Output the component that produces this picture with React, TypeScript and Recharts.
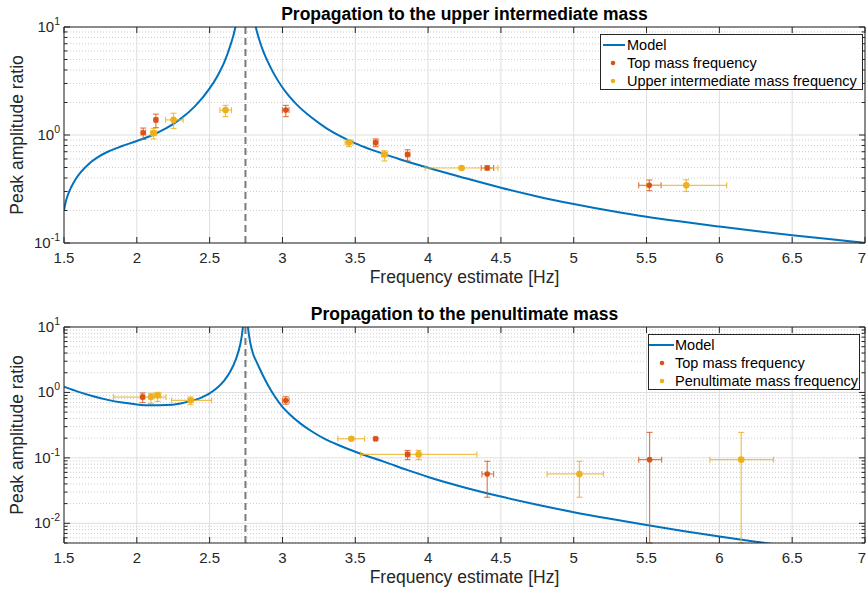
import React from 'react';
import {
  ComposedChart,
  Line,
  Scatter,
  XAxis,
  YAxis,
  CartesianGrid,
  ReferenceLine,
  ErrorBar,
} from 'recharts';

// ---------- data ----------
const xTicks = [1.5, 2, 2.5, 3, 3.5, 4, 4.5, 5, 5.5, 6, 6.5, 7];
const xTickLabels = ['1.5', '2', '2.5', '3', '3.5', '4', '4.5', '5', '5.5', '6', '6.5', '7'];

const upperMajorY = [0.1, 1, 10];
const upperMinorY = [0.2, 0.3, 0.4, 0.5, 0.6, 0.7, 0.8, 0.9, 2, 3, 4, 5, 6, 7, 8, 9];
const penultMajorY = [0.01, 0.1, 1, 10];
const penultMinorY = [
  0.005, 0.006, 0.007, 0.008, 0.009,
  0.02, 0.03, 0.04, 0.05, 0.06, 0.07, 0.08, 0.09,
  0.2, 0.3, 0.4, 0.5, 0.6, 0.7, 0.8, 0.9,
  2, 3, 4, 5, 6, 7, 8, 9,
];
const upperDomain = [0.1, 10];
const penultDomain = [0.005, 10];
const xDomain = [1.5, 7];
const resonanceHz = 2.746;

const modelUpper = [
  { f: 1.5, v: 0.2 }, { f: 1.51, v: 0.235 }, { f: 1.525, v: 0.275 }, { f: 1.55, v: 0.33 },
  { f: 1.58, v: 0.39 }, { f: 1.62, v: 0.46 }, { f: 1.67, v: 0.54 }, { f: 1.73, v: 0.62 },
  { f: 1.8, v: 0.7 }, { f: 1.9, v: 0.79 }, { f: 2.0, v: 0.88 }, { f: 2.1, v: 0.99 },
  { f: 2.2, v: 1.15 }, { f: 2.3, v: 1.41 }, { f: 2.4, v: 1.85 }, { f: 2.5, v: 2.7 },
  { f: 2.55, v: 3.45 }, { f: 2.6, v: 4.7 }, { f: 2.64, v: 6.6 }, { f: 2.677, v: 10 },
  { f: 2.7, v: 15.5 }, { f: 2.746, v: null }, { f: 2.79, v: 17 }, { f: 2.817, v: 10 },
  { f: 2.84, v: 7.7 }, { f: 2.867, v: 6.0 }, { f: 2.9, v: 4.75 }, { f: 2.936, v: 3.8 },
  { f: 3.0, v: 2.75 }, { f: 3.05, v: 2.25 }, { f: 3.1, v: 1.9 }, { f: 3.2, v: 1.45 },
  { f: 3.3, v: 1.16 }, { f: 3.4, v: 0.97 }, { f: 3.5, v: 0.835 }, { f: 3.6, v: 0.74 },
  { f: 3.7, v: 0.665 }, { f: 3.8, v: 0.6 }, { f: 3.9, v: 0.545 }, { f: 4.0, v: 0.497 },
  { f: 4.25, v: 0.4 }, { f: 4.5, v: 0.325 }, { f: 4.75, v: 0.27 }, { f: 5.0, v: 0.23 },
  { f: 5.25, v: 0.199 }, { f: 5.5, v: 0.175 }, { f: 5.75, v: 0.157 }, { f: 6.0, v: 0.142 },
  { f: 6.25, v: 0.129 }, { f: 6.5, v: 0.118 }, { f: 6.75, v: 0.109 }, { f: 7.0, v: 0.1 },
];

const modelPenult = [
  { f: 1.5, v: 1.22 }, { f: 1.6, v: 1.02 }, { f: 1.7, v: 0.875 }, { f: 1.8, v: 0.77 },
  { f: 1.9, v: 0.7 }, { f: 2.0, v: 0.655 }, { f: 2.1, v: 0.635 }, { f: 2.2, v: 0.64 },
  { f: 2.3, v: 0.68 }, { f: 2.4, v: 0.77 }, { f: 2.45, v: 0.85 }, { f: 2.5, v: 0.97 },
  { f: 2.55, v: 1.17 }, { f: 2.6, v: 1.52 }, { f: 2.64, v: 2.05 }, { f: 2.68, v: 3.2 },
  { f: 2.71, v: 5.4 }, { f: 2.725, v: 8.5 }, { f: 2.735, v: 14 }, { f: 2.746, v: null },
  { f: 2.755, v: 16 }, { f: 2.763, v: 10 }, { f: 2.78, v: 5.6 }, { f: 2.8, v: 3.8 },
  { f: 2.82, v: 3.0 }, { f: 2.844, v: 2.3 }, { f: 2.867, v: 1.8 }, { f: 2.9, v: 1.3 },
  { f: 2.95, v: 0.85 }, { f: 3.0, v: 0.6 }, { f: 3.06, v: 0.44 }, { f: 3.12, v: 0.34 },
  { f: 3.2, v: 0.255 }, { f: 3.3, v: 0.19 }, { f: 3.4, v: 0.152 }, { f: 3.5, v: 0.124 },
  { f: 3.6, v: 0.103 }, { f: 3.7, v: 0.087 }, { f: 3.85, v: 0.066 }, { f: 4.0, v: 0.051 },
  { f: 4.25, v: 0.0353 }, { f: 4.5, v: 0.0256 }, { f: 4.75, v: 0.0192 }, { f: 5.0, v: 0.0148 },
  { f: 5.25, v: 0.0117 }, { f: 5.5, v: 0.0094 }, { f: 5.75, v: 0.00764 }, { f: 6.0, v: 0.00628 },
  { f: 6.25, v: 0.00522 }, { f: 6.5, v: 0.0044 },
];

// measured points: f (Hz) with [fLo, fHi], v (ratio) with [vLo, vHi]
const upperTopMass = [
  { f: 2.044, fLo: 2.03, fHi: 2.06, v: 1.05, vLo: 0.91, vHi: 1.16 },
  { f: 2.131, fLo: 2.12, fHi: 2.143, v: 1.38, vLo: 1.17, vHi: 1.56 },
  { f: 3.023, fLo: 3.0, fHi: 3.045, v: 1.7, vLo: 1.48, vHi: 1.88 },
  { f: 3.64, fLo: 3.625, fHi: 3.655, v: 0.85, vLo: 0.78, vHi: 0.92 },
  { f: 3.859, fLo: 3.845, fHi: 3.875, v: 0.66, vLo: 0.575, vHi: 0.73 },
  { f: 4.406, fLo: 4.365, fHi: 4.45, v: 0.495, vLo: 0.475, vHi: 0.52 },
  { f: 5.519, fLo: 5.446, fHi: 5.6, v: 0.342, vLo: 0.305, vHi: 0.383 },
];
const upperOwnMass = [
  { f: 2.115, fLo: 2.095, fHi: 2.135, v: 1.04, vLo: 0.92, vHi: 1.15 },
  { f: 2.252, fLo: 2.197, fHi: 2.318, v: 1.38, vLo: 1.15, vHi: 1.59 },
  { f: 2.609, fLo: 2.57, fHi: 2.65, v: 1.7, vLo: 1.48, vHi: 1.88 },
  { f: 3.457, fLo: 3.43, fHi: 3.485, v: 0.85, vLo: 0.78, vHi: 0.9 },
  { f: 3.7, fLo: 3.68, fHi: 3.72, v: 0.66, vLo: 0.575, vHi: 0.715 },
  { f: 4.23, fLo: 3.98, fHi: 4.48, v: 0.495, vLo: 0.48, vHi: 0.51 },
  { f: 5.773, fLo: 5.5, fHi: 6.05, v: 0.342, vLo: 0.3, vHi: 0.385 },
];
const penultTopMass = [
  { f: 2.04, fLo: 2.03, fHi: 2.05, v: 0.85, vLo: 0.7, vHi: 0.98 },
  { f: 3.023, fLo: 3.0, fHi: 3.045, v: 0.75, vLo: 0.66, vHi: 0.86 },
  { f: 3.64, fLo: 3.63, fHi: 3.65, v: 0.196, vLo: 0.188, vHi: 0.204 },
  { f: 3.859, fLo: 3.845, fHi: 3.875, v: 0.113, vLo: 0.094, vHi: 0.13 },
  { f: 4.406, fLo: 4.37, fHi: 4.45, v: 0.0568, vLo: 0.025, vHi: 0.0885 },
  { f: 5.521, fLo: 5.446, fHi: 5.604, v: 0.094, vLo: 0.005, vHi: 0.245 },
];
const penultOwnMass = [
  { f: 2.097, fLo: 1.84, fHi: 2.2, v: 0.85, vLo: 0.68, vHi: 0.96 },
  { f: 2.143, fLo: 2.12, fHi: 2.165, v: 0.9, vLo: 0.73, vHi: 1.0 },
  { f: 2.369, fLo: 2.238, fHi: 2.513, v: 0.755, vLo: 0.65, vHi: 0.85 },
  { f: 3.473, fLo: 3.38, fHi: 3.564, v: 0.196, vLo: 0.19, vHi: 0.202 },
  { f: 3.935, fLo: 3.537, fHi: 4.335, v: 0.113, vLo: 0.094, vHi: 0.13 },
  { f: 5.039, fLo: 4.817, fHi: 5.204, v: 0.0568, vLo: 0.025, vHi: 0.0885 },
  { f: 6.15, fLo: 5.935, fHi: 6.372, v: 0.094, vLo: 0.005, vHi: 0.245 },
];

const upperTitle = 'Propagation to the upper intermediate mass';
const penultTitle = 'Propagation to the penultimate mass';
const xTitle = 'Frequency estimate [Hz]';
const yTitle = 'Peak amplitude ratio';
const upperLegend = ['Model', 'Top mass frequency', 'Upper intermediate mass frequency'];
const penultLegend = ['Model', 'Top mass frequency', 'Penultimate mass frequency'];

// ---------- styles ----------
const FONT = '"Liberation Sans", Arial, Helvetica, sans-serif';
const AXIS = '#262626';
const MODEL = '#0072BD';
const ORANGE = '#D95319';
const YELLOW = '#EDB120';
const GRID = '#dedede';
const MINOR = '#cdcdcd';
const DASH = '#7b7b7b';
const CHART_W = 867;

const withErrors = (rows: any[]) =>
  rows.map((r) => ({ ...r, ex: [r.f - r.fLo, r.fHi - r.f], ey: [r.v - r.vLo, r.vHi - r.v] }));

const isMajor = (v: number) => Math.abs(Math.log10(v) - Math.round(Math.log10(v))) < 1e-6;

function LeftYTick(props: any) {
  const { x, y, payload } = props;
  const v = payload.value;
  const major = isMajor(v);
  const exp = Math.round(Math.log10(v));
  return (
    <g>
      <line x1={x} y1={y} x2={x + (major ? 6 : 3.5)} y2={y} stroke={AXIS} strokeWidth={1} />
      {major && (
        <text x={x - 4} y={y + 5} textAnchor="end" fontSize={15} fill={AXIS}>
          10
          <tspan dy={-7} fontSize={10.5}>{String(exp)}</tspan>
        </text>
      )}
    </g>
  );
}

function RightYTick(props: any) {
  const { x, y, payload } = props;
  const major = isMajor(payload.value);
  return <line x1={x} y1={y} x2={x - (major ? 6 : 3.5)} y2={y} stroke={AXIS} strokeWidth={1} />;
}

function BottomXTick(props: any) {
  const { x, y, payload } = props;
  const idx = xTicks.indexOf(payload.value);
  const tx = Math.min(x, CHART_W - 5);
  return (
    <g>
      <line x1={x} y1={y} x2={x} y2={y - 6} stroke={AXIS} strokeWidth={1} />
      <text x={tx} y={y + 20} textAnchor="middle" fontSize={15} fill={AXIS}>
        {idx >= 0 ? xTickLabels[idx] : ''}
      </text>
    </g>
  );
}

function TopXTick(props: any) {
  const { x, y } = props;
  return <line x1={x} y1={y} x2={x} y2={y + 6} stroke={AXIS} strokeWidth={1} />;
}

const Dot = (color: string, r: number) => (p: any) =>
  <circle cx={p.cx} cy={p.cy} r={r} fill={color} stroke="none" />;

function Panel(props: {
  height: number;
  topH: number;
  bottomH: number;
  title: string;
  titleOffset: number;
  xLabelOffset: number;
  domain: number[];
  majorY: number[];
  minorY: number[];
  model: any[];
  topMass: any[];
  ownMass: any[];
}) {
  const yTicks = [...props.majorY, ...props.minorY].sort((a, b) => a - b);
  return (
    <ComposedChart width={CHART_W} height={props.height} margin={{ top: 0, right: 0, bottom: 0, left: 0 }}>
      <XAxis
        xAxisId="b"
        dataKey="f"
        type="number"
        domain={xDomain}
        allowDataOverflow
        ticks={xTicks}
        interval={0}
        height={props.bottomH}
        tickSize={0}
        tickMargin={0}
        tickLine={false}
        axisLine={{ stroke: AXIS }}
        tick={<BottomXTick />}
        label={{
          value: xTitle,
          position: 'insideBottom',
          offset: props.xLabelOffset,
          style: { fontSize: 17.5, fill: AXIS, fontFamily: FONT },
        }}
      />
      <XAxis
        xAxisId="t"
        orientation="top"
        dataKey="f"
        type="number"
        domain={xDomain}
        allowDataOverflow
        ticks={xTicks}
        interval={0}
        height={props.topH}
        tickSize={0}
        tickMargin={0}
        tickLine={false}
        axisLine={{ stroke: AXIS }}
        tick={<TopXTick />}
        label={{
          value: props.title,
          position: 'insideTop',
          offset: props.titleOffset,
          style: { fontSize: 17.5, fontWeight: 'bold', fill: '#000', fontFamily: FONT },
        }}
      />
      <YAxis
        yAxisId="l"
        dataKey="v"
        type="number"
        scale="log"
        domain={props.domain}
        allowDataOverflow
        ticks={yTicks}
        interval={0}
        width={64}
        tickSize={0}
        tickMargin={0}
        tickLine={false}
        axisLine={{ stroke: AXIS }}
        tick={<LeftYTick />}
        label={{
          value: yTitle,
          angle: -90,
          position: 'insideLeft',
          offset: 17,
          style: { textAnchor: 'middle', fontSize: 17.5, fill: AXIS, fontFamily: FONT },
        }}
      />
      <YAxis
        yAxisId="r"
        orientation="right"
        dataKey="v"
        type="number"
        scale="log"
        domain={props.domain}
        allowDataOverflow
        ticks={yTicks}
        interval={0}
        width={2}
        tickSize={0}
        tickMargin={0}
        tickLine={false}
        axisLine={{ stroke: AXIS }}
        tick={<RightYTick />}
      />
      <CartesianGrid
        xAxisId="b"
        yAxisId="l"
        horizontalValues={props.minorY}
        vertical={false}
        stroke={MINOR}
        strokeDasharray="1 2"
      />
      <CartesianGrid
        xAxisId="b"
        yAxisId="l"
        horizontalValues={props.majorY}
        verticalValues={xTicks}
        stroke={GRID}
      />
      <ReferenceLine
        xAxisId="b"
        yAxisId="l"
        x={resonanceHz}
        stroke={DASH}
        strokeWidth={2}
        strokeDasharray="7 4"
      />
      <Line
        xAxisId="b"
        yAxisId="l"
        data={props.model}
        dataKey="v"
        type="monotone"
        stroke={MODEL}
        strokeWidth={2}
        dot={false}
        activeDot={false}
        connectNulls={false}
        isAnimationActive={false}
      />
      <Scatter
        xAxisId="b"
        yAxisId="l"
        data={withErrors(props.topMass)}
        dataKey="v"
        fill={ORANGE}
        shape={Dot(ORANGE, 2.8)}
        isAnimationActive={false}
      >
        <ErrorBar dataKey="ey" direction="y" width={3} stroke={ORANGE} strokeOpacity={0.75} strokeWidth={1.2} />
        <ErrorBar dataKey="ex" direction="x" width={3} stroke={ORANGE} strokeOpacity={0.75} strokeWidth={1.2} />
      </Scatter>
      <Scatter
        xAxisId="b"
        yAxisId="l"
        data={withErrors(props.ownMass)}
        dataKey="v"
        fill={YELLOW}
        shape={Dot(YELLOW, 3.3)}
        isAnimationActive={false}
      >
        <ErrorBar dataKey="ey" direction="y" width={3} stroke={YELLOW} strokeOpacity={0.8} strokeWidth={1.2} />
        <ErrorBar dataKey="ex" direction="x" width={3} stroke={YELLOW} strokeOpacity={0.8} strokeWidth={1.2} />
      </Scatter>
    </ComposedChart>
  );
}

function LegendBox(props: { left: number; top: number; width: number; labels: string[]; lineX1: number; lineX2: number; dotX: number }) {
  const h = 56;
  const rows = [11, 29, 47];
  return (
    <svg
      style={{ position: 'absolute', left: props.left, top: props.top, fontFamily: FONT }}
      width={props.width}
      height={h}
    >
      <rect x={0.5} y={0.5} width={props.width - 1} height={h - 1} fill="#fff" stroke={AXIS} strokeWidth={1} />
      <line x1={props.lineX1} x2={props.lineX2} y1={rows[0]} y2={rows[0]} stroke={MODEL} strokeWidth={2} />
      <circle cx={props.dotX} cy={rows[1]} r={2.3} fill={ORANGE} />
      <circle cx={props.dotX} cy={rows[2]} r={2.3} fill={YELLOW} />
      {props.labels.map((t, i) => (
        <text key={t} x={27} y={rows[i] + 5.2} fontSize={14.5} fill="#000">
          {t}
        </text>
      ))}
    </svg>
  );
}

export default function App() {
  return (
    <div
      style={{
        position: 'absolute',
        left: 0,
        top: 0,
        width: 867,
        height: 593,
        background: '#fff',
        fontFamily: FONT,
        overflow: 'hidden',
      }}
    >
      <div style={{ position: 'absolute', left: 0, top: 0 }}>
        <Panel
          height={296}
          topH={27}
          bottomH={53}
          title={upperTitle}
          titleOffset={8}
          xLabelOffset={13}
          domain={upperDomain}
          majorY={upperMajorY}
          minorY={upperMinorY}
          model={modelUpper}
          topMass={upperTopMass}
          ownMass={upperOwnMass}
        />
      </div>
      <div style={{ position: 'absolute', left: 0, top: 296 }}>
        <Panel
          height={297}
          topH={31}
          bottomH={50}
          title={penultTitle}
          titleOffset={11.5}
          xLabelOffset={10}
          domain={penultDomain}
          majorY={penultMajorY}
          minorY={penultMinorY}
          model={modelPenult}
          topMass={penultTopMass}
          ownMass={penultOwnMass}
        />
      </div>
      <LegendBox left={600} top={34} width={263} labels={upperLegend} lineX1={3} lineX2={25} dotX={13} />
      <LegendBox left={648} top={334} width={212} labels={penultLegend} lineX1={1} lineX2={26} dotX={14} />
    </div>
  );
}
